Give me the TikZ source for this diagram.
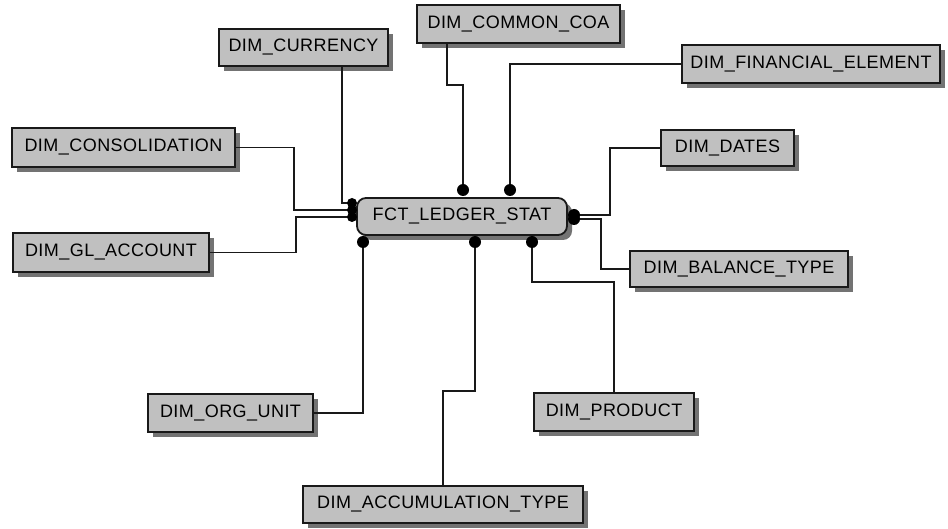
\documentclass[tikz,border=0pt]{standalone}
\usepackage{fontspec}
\newfontfamily\boxfont{Liberation Sans}[LetterSpace=2.5]
\usetikzlibrary{shadows}
\definecolor{boxgray}{RGB}{192,192,192}
\definecolor{shadowgray}{RGB}{115,115,115}
\begin{document}
\begin{tikzpicture}[x=1pt,y=-1pt,
  tbl/.style={draw=black!90, line width=1.8pt, fill=boxgray, inner sep=0pt,
    font=\boxfont\fontsize{18}{21}\selectfont, text=black,
    general shadow={fill=shadowgray, shadow xshift=5pt, shadow yshift=-5pt}},
  fact/.style={tbl, rounded corners=9pt},
  link/.style={line width=1.8pt, draw=black!90},
  joint/.style={circle, fill=black, inner sep=0pt, minimum size=12pt},
  smalljoint/.style={joint, minimum size=10pt}]
\useasboundingbox (0,0) rectangle (948,529);
\fill[white] (0,0) rectangle (948,529);

% dimension tables
\node[tbl, minimum width=169pt, minimum height=37pt] (cur)   at (303.5,47.5) {DIM\_CURRENCY};
\node[tbl, minimum width=203pt, minimum height=38pt] (coa)   at (518.5,24)   {DIM\_COMMON\_COA};
\node[tbl, minimum width=258pt, minimum height=38pt] (fin)   at (811,64)     {DIM\_FINANCIAL\_ELEMENT};
\node[tbl, minimum width=223pt, minimum height=39pt] (cons)  at (123.5,147.5){DIM\_CONSOLIDATION};
\node[tbl, minimum width=196pt, minimum height=39pt] (gl)    at (111,252.5)  {DIM\_GL\_ACCOUNT};
\node[tbl, minimum width=133pt, minimum height=36pt] (dates) at (727.5,148)  {DIM\_DATES};
\node[tbl, minimum width=218pt, minimum height=36pt] (bal)   at (739,269)    {DIM\_BALANCE\_TYPE};
\node[tbl, minimum width=165pt, minimum height=38pt] (org)   at (230.5,413)  {DIM\_ORG\_UNIT};
\node[tbl, minimum width=160pt, minimum height=38pt] (prod)  at (614,412)    {DIM\_PRODUCT};
\node[tbl, minimum width=280pt, minimum height=37pt] (acc)   at (443,504.5)  {DIM\_ACCUMULATION\_TYPE};

% fact table
\node[fact, minimum width=210pt, minimum height=37pt] (fct) at (462,216.5) {FCT\_LEDGER\_STAT};

% relationship end points on the fact table
\coordinate (jL1) at (352,203);
\coordinate (jL2) at (352,210);
\coordinate (jL3) at (352,217);
\coordinate (jT1) at (463,190);
\coordinate (jT2) at (510,190);
\coordinate (jR1) at (574,215);
\coordinate (jR2) at (574,219);
\coordinate (jB1) at (363,242);
\coordinate (jB2) at (475,242);
\coordinate (jB3) at (532,242);

% relationships
\draw[link] ([xshift=38.5pt]cur.south) |- (jL1);
\draw[link] (cons.east) -- ++(58,0) |- (jL2);
\draw[link] (gl.east) -- ++(86,0) |- (jL3);
\draw[link] ([xshift=-71.5pt]coa.south) -- ++(0,41) -| (jT1);
\draw[link] (fin.west) -| (jT2);
\draw[link] (dates.west) -- ++(-50,0) |- (jR1);
\draw[link] (bal.west) -- ++(-28,0) |- (jR2);
\draw[link] (org.east) -| (jB1);
\draw[link] (acc.north) -- ++(0,-94) -| (jB2);
\draw[link] (prod.north) -- ++(0,-110) -| (jB3);

% cardinality markers
\foreach \j in {jL1,jL2,jL3}
  \node[smalljoint] (m\j) at (\j) {};
\foreach \j in {jT1,jT2,jR1,jR2,jB1,jB2,jB3}
  \node[joint] (m\j) at (\j) {};
\end{tikzpicture}
\end{document}
